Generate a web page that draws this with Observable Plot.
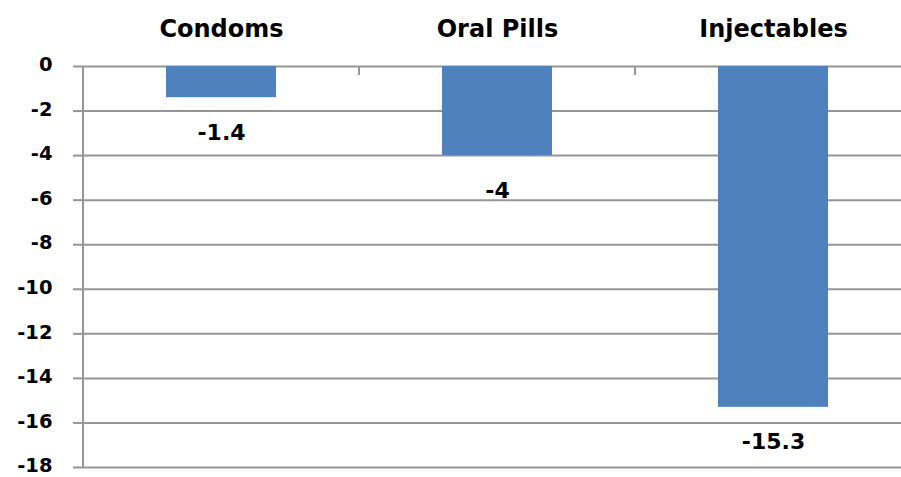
<!DOCTYPE html>
<html>
<head>
<meta charset="utf-8">
<script src="https://cdn.jsdelivr.net/npm/d3@7"></script>
<script src="https://cdn.jsdelivr.net/npm/@observablehq/plot@0.6"></script>
<style>
  html, body { margin: 0; padding: 0; background: #fff; overflow: hidden; }
  #chart svg { display: block; }
</style>
</head>
<body>
<div id="chart"></div>
<script>
// Change in method use, by contraceptive method
const categories = ["Condoms", "Oral Pills", "Injectables"];
const changes = [-1.4, -4, -15.3];
const yTicks = [0, -2, -4, -6, -8, -10, -12, -14, -16, -18];

const data = categories.map((c, i) => ({method: c, change: changes[i]}));

const gray = "#969696";
const blue = "#4F81BD";

const chart = Plot.plot({
  width: 901,
  height: 477,
  marginTop: 66,
  marginBottom: 10,
  marginLeft: 83,
  marginRight: 0,
  style: {fontFamily: "DejaVu Sans", fontWeight: "bold", background: "#fff", color: "#000"},
  x: {domain: categories, range: [83, 911], paddingInner: 0.6, paddingOuter: 0.3},
  y: {domain: [-18, 0]},
  marks: [
    Plot.gridY(yTicks, {stroke: gray, strokeWidth: 2, strokeOpacity: 1}),
    // tick marks on the value axis
    Plot.axisY(yTicks, {
      tickSize: 10, stroke: gray, strokeWidth: 2, tickFormat: () => "", label: null
    }),
    // value axis labels
    Plot.axisY(yTicks, {
      tickSize: 0, tickPadding: 31, tickFormat: d => String(d),
      fontSize: 19.5, fill: "#000", label: null, dy: -1.5,
      style: {letterSpacing: "0.5px"}
    }),
    Plot.axisX({
      anchor: "top", tickSize: 0, tickPadding: 30, fontSize: 24,
      fill: "#000", label: null, style: {letterSpacing: "2px"}
    }),
    Plot.barY(data, {x: "method", y1: 0, y2: "change", fill: blue}),
    Plot.text(data, {
      x: "method", y: "change", text: d => String(d.change),
      dy: 35, fontSize: 22, fontWeight: "bold", fill: "#000",
      style: {letterSpacing: "1px"}
    })
  ]
});

// Category axis: vertical value axis line and tick marks between categories
const sx = chart.scale("x");
const sy = chart.scale("y");
const [yBottom, yTop] = sy.range;
const svg = d3.select(chart);
svg.append("line")
  .attr("x1", sx.range[0]).attr("x2", sx.range[0])
  .attr("y1", yTop).attr("y2", yBottom)
  .attr("stroke", gray).attr("stroke-width", 2);
const step = (sx.range[1] - sx.range[0]) / categories.length;
categories.slice(0, -1).forEach((c, i) => {
  const bx = sx.range[0] + step * (i + 1);
  svg.append("line")
    .attr("x1", bx).attr("x2", bx)
    .attr("y1", yTop).attr("y2", yTop + 9)
    .attr("stroke", gray).attr("stroke-width", 2);
});

document.getElementById("chart").append(chart);
</script>
</body>
</html>
